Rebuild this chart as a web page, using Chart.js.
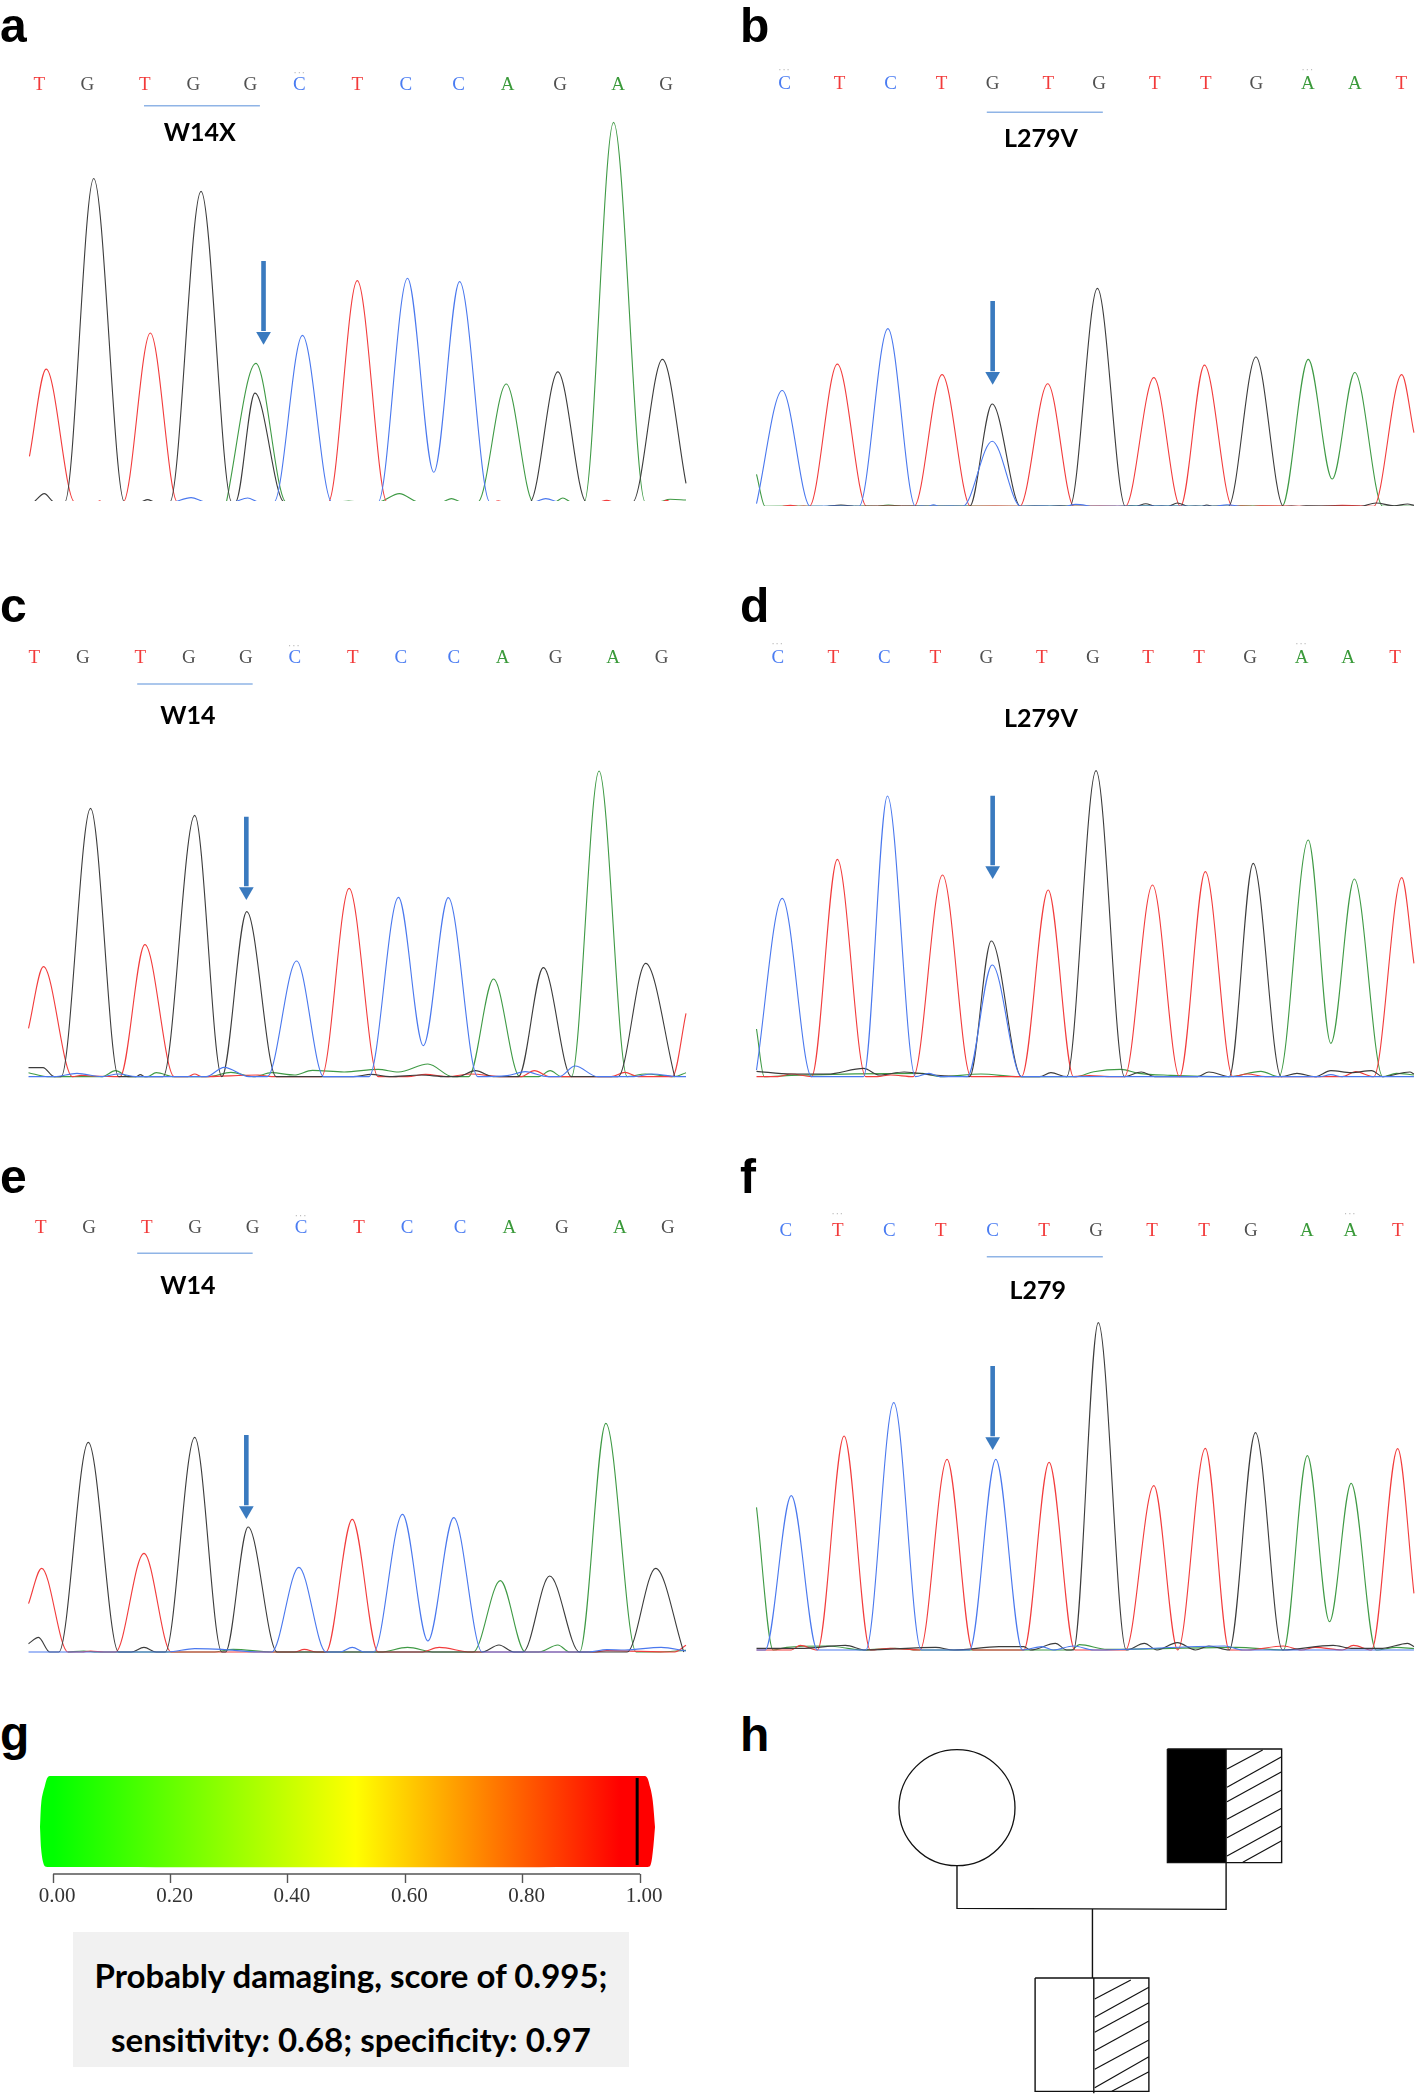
<!DOCTYPE html>
<html><head><meta charset="utf-8">
<script src="https://cdn.jsdelivr.net/npm/chart.js@4/dist/chart.umd.min.js"></script>
<style>
html,body{margin:0;padding:0;background:#fff}
#page{position:relative;width:1418px;height:2096px;overflow:hidden;background:#fff}
canvas{position:absolute;display:block}
.t{position:absolute;white-space:nowrap;color:#000}
.p{font:bold 48px "Liberation Sans",sans-serif;line-height:48px}
.v{font:bold 25px Lato,sans-serif;transform:translate(-50%,-50%);line-height:1}
.d{font:10px "DejaVu Sans",sans-serif;color:#bbb;transform:translate(-50%,-50%);letter-spacing:1px;line-height:1}
#box{position:absolute;left:73px;top:1932px;width:556px;height:135px;background:#f1f1f1}
.s{font:bold 33px Lato,sans-serif;transform:translate(-50%,-50%);line-height:1;left:351px}
</style></head><body><div id="page"><div id="box"></div></div>
<script>
// ---------- sequencing traces: [scan position, signal height] ----------
const aBases=['T','G','T','G','G','C','T','C','C','A','G','A','G'];
const aBaseX=[87,193,320,427,553,661,789,896,1013,1121,1237,1365,1471];
const aRed=[[65,135],[102,393],[165,0],[215,0],[220,4],[226,0],[272,0],[332,500],[392,0],[725,0],[789,655],[855,0],[1092,0],[1100,4],[1110,0],[1320,0],[1340,5],[1358,0],[1462,0],[1472,5],[1482,0],[1515,0]];
const aBlack=[[75,0],[98,25],[120,0],[143,0],[207,957],[275,0],[310,0],[326,7],[342,0],[375,0],[444,919],[512,0],[520,0],[563,322],[628,0],[1170,0],[1232,385],[1295,0],[1397,0],[1463,422],[1515,55]];
const aGreen=[[500,0],[565,410],[632,0],[745,0],[770,3],[795,0],[835,0],[882,25],[925,0],[975,0],[997,10],[1020,0],[1055,0],[1118,349],[1178,0],[1225,0],[1243,12],[1262,0],[1290,0],[1355,1123],[1425,0],[1452,0],[1480,8],[1515,6]];
const aBlue=[[385,0],[422,13],[455,0],[513,0],[547,12],[572,0],[605,0],[668,493],[733,0],[835,0],[900,662],[958,88],[1015,652],[1082,0],[1178,0],[1205,10],[1232,0]];

const bBases=['C','T','C','T','G','T','G','T','T','G','A','A','T'];
const bBaseX=[165,287,400,513,626,749,862,985,1098,1210,1324,1428,1531];
const bRed=[[160,0],[178,3],[195,0],[220,0],[282,421],[347,0],[452,0],[514,390],[577,0],[686,0],[748,363],[806,0],[920,0],[983,381],[1042,0],[1095,418],[1157,0],[1200,0],[1220,2],[1350,0],[1400,3],[1470,0],[1532,390],[1559,218]];
const bBlack=[[260,0],[290,4],[320,0],[575,0],[625,303],[688,0],[750,0],[775,2],[797,0],[858,645],[920,0],[945,0],[965,8],[985,0],[1015,0],[1035,10],[1060,0],[1090,0],[1100,4],[1112,0],[1148,0],[1209,442],[1270,0],[1305,0],[1320,2],[1440,0],[1475,10],[1515,2],[1545,7],[1559,3]];
const bGreen=[[103,95],[122,0],[250,0],[280,2],[330,0],[370,0],[395,4],[425,0],[690,0],[730,1],[900,0],[930,2],[1160,0],[1175,2],[1267,0],[1325,435],[1378,81],[1428,396],[1490,0],[1559,0]];
const bBlue=[[103,8],[160,343],[222,0],[330,0],[394,526],[455,0],[483,0],[495,5],[507,0],[560,0],[625,193],[688,0],[785,0],[810,6],[850,0],[1120,0],[1145,5],[1175,0]];

const cBases=['T','G','T','G','G','C','T','C','C','A','G','A','G'];
const cBaseX=[76,183,310,417,543,651,779,885,1002,1110,1227,1354,1461];
const cRed=[[63,145],[96,330],[160,0],[180,4],[205,2],[265,0],[320,396],[385,0],[415,0],[430,8],[445,0],[570,5],[600,0],[710,0],[771,565],[835,0],[900,0],[940,7],[990,0],[1040,8],[1110,0],[1150,0],[1180,18],[1215,0],[1350,0],[1380,13],[1410,0],[1485,0],[1515,190]];
const cBlack=[[63,27],[95,27],[120,0],[135,0],[200,805],[262,0],[300,0],[310,6],[320,0],[360,0],[430,784],[490,0],[545,495],[610,0],[780,0],[820,7],[860,0],[930,5],[985,0],[1010,0],[1050,18],[1090,0],[1145,0],[1200,327],[1262,0],[1365,0],[1426,340],[1490,0]];
const cGreen=[[63,12],[105,0],[225,0],[255,18],[285,0],[325,0],[345,12],[385,0],[460,0],[510,13],[560,0],[600,12],[650,5],[690,19],[760,14],[835,22],[880,14],[945,38],[1000,0],[1035,0],[1090,293],[1148,0],[1190,0],[1215,18],[1240,0],[1262,0],[1323,917],[1385,0],[1425,8],[1490,0],[1515,12]];
const cBlue=[[63,0],[120,0],[170,10],[225,0],[262,8],[300,0],[455,0],[495,28],[550,0],[590,0],[655,347],[715,0],[815,0],[880,538],[935,93],[990,537],[1055,0],[1120,3],[1160,15],[1210,0],[1235,0],[1270,32],[1320,0],[1400,0],[1440,8],[1500,0],[1515,0]];

const dBases=['C','T','C','T','G','T','G','T','T','G','A','A','T'];
const dBaseX=[150,273,386,499,612,735,848,970,1083,1196,1310,1413,1517];
const dRed=[[103,0],[150,0],[180,8],[225,0],[282,652],[345,0],[370,0],[400,5],[450,0],[515,605],[578,0],[690,0],[749,560],[805,0],[840,3],[890,0],[918,0],[980,575],[1040,0],[1097,615],[1158,0],[1190,8],[1230,0],[1400,0],[1430,15],[1470,0],[1532,597],[1559,340]];
const dBlack=[[103,16],[180,8],[260,8],[340,25],[375,5],[430,14],[495,5],[575,0],[623,407],[690,0],[730,0],[755,12],[790,0],[855,918],[918,0],[955,14],[985,0],[1080,0],[1105,14],[1150,0],[1203,640],[1265,0],[1300,10],[1340,0],[1375,18],[1420,12],[1465,18],[1490,0],[1550,14],[1559,8]];
const dGreen=[[103,143],[120,0],[180,4],[470,10],[510,0],[600,8],[685,0],[810,0],[850,15],[910,22],[950,10],[1020,4],[1150,0],[1220,16],[1260,0],[1325,710],[1375,100],[1427,593],[1490,0],[1520,10],[1559,5]];
const dBlue=[[103,20],[160,535],[225,0],[340,0],[393,842],[455,0],[485,10],[510,0],[570,0],[625,335],[690,0],[1350,0],[1375,6],[1400,0],[1559,0]];

const eBases=['T','G','T','G','G','C','T','C','C','A','G','A','G'];
const eBaseX=[90,197,324,431,558,665,793,899,1016,1125,1241,1369,1475];
const eRed=[[63,145],[92,251],[150,0],[180,0],[200,3],[230,0],[255,0],[318,296],[378,0],[650,0],[672,8],[700,0],[720,0],[778,398],[835,0],[930,0],[970,14],[1040,0],[1310,0],[1340,4],[1490,0],[1515,20]];
const eBlack=[[63,25],[85,44],[110,0],[130,0],[195,629],[262,0],[290,0],[318,14],[345,0],[365,0],[430,644],[490,0],[498,0],[548,375],[612,0],[1065,0],[1102,21],[1135,0],[1155,0],[1214,228],[1280,0],[1385,0],[1448,251],[1510,0]];
const eGreen=[[150,0],[185,3],[215,0],[470,0],[515,8],[600,0],[840,0],[900,14],[960,0],[1045,0],[1105,214],[1160,0],[1190,0],[1232,21],[1258,0],[1280,0],[1338,686],[1405,0],[1450,0],[1515,5]];
const eBlue=[[63,0],[370,0],[430,10],[490,8],[570,0],[600,0],[660,254],[720,0],[750,0],[778,14],[805,0],[825,0],[889,413],[945,33],[1002,403],[1065,0],[1300,0],[1340,7],[1380,6],[1460,14],[1515,3]];

const fBases=['C','T','C','T','C','T','G','T','T','G','A','A','T'];
const fBaseX=[168,283,397,511,626,740,855,979,1094,1198,1322,1418,1523];
const fRed=[[103,0],[180,0],[200,14],[238,0],[297,642],[355,0],[400,5],[465,0],[525,572],[582,0],[695,0],[751,563],[808,0],[920,0],[983,493],[1036,0],[1097,605],[1150,0],[1190,0],[1270,12],[1310,0],[1340,8],[1400,0],[1425,14],[1465,0],[1523,604],[1559,170]];
const fBlack=[[103,5],[200,5],[300,14],[345,0],[500,8],[540,0],[640,10],[695,10],[710,0],[765,20],[790,0],[805,0],[860,982],[922,0],[962,20],[990,0],[1035,22],[1075,0],[1105,12],[1150,0],[1208,652],[1268,0],[1380,14],[1420,5],[1490,5],[1545,20],[1559,10]];
const fGreen=[[103,428],[140,0],[170,8],[260,12],[340,0],[410,5],[460,0],[800,0],[818,16],[880,2],[1165,8],[1270,0],[1323,583],[1372,85],[1420,500],[1475,0],[1520,8],[1559,4]];
const fBlue=[[103,0],[122,0],[180,463],[238,0],[345,0],[407,742],[468,0],[575,0],[633,572],[692,0],[735,10],[760,0],[805,12],[850,0],[1140,12],[1180,0],[1559,0]];

// ---------- polyphen score bar ----------
const scoreTicks=[0,0.2,0.4,0.6,0.8,1];
const score=0.995;
const barX=[-0.0224,-0.020,-0.0146,-0.0054,1.0077,1.017,1.0216,1.0254];
const barTop=[47,73,87,98,98,87,73,47];
const barBottom=[47,22,8,7,7,8,22,47];
const colourStops=[[0,'#00ff00'],[0.515,'#ffff00'],[0.966,'#ff0000'],[1,'#ff0000']];

// ---------- pedigree outline segments ----------
const pedMother=[[547,323]];
const pedFatherBlack=[[1013,147],[1143,147]];
const pedFrames=[[[1013,147],[1266,147],[1266,488],[1013,488],[1013,147]],[[1143,147],[1143,488]],[[720,834],[972,834],[972,1174],[720,1174],[720,834]],[[850,834],[850,1180]],[[547,498],[547,625],[1143,628],[1143,488]],[[847,627],[847,834]]];
const pedHatch=[[[1145,207],[1224,150]],[[1145,262],[1266,170]],[[1145,305],[1266,215]],[[1145,358],[1266,270]],[[1145,413],[1266,325]],[[1145,468],[1266,378]],[[1180,487],[1266,422]],[[852,897],[932,840]],[[852,952],[972,862]],[[852,997],[972,908]],[[852,1052],[972,963]],[[852,1108],[972,1020]],[[852,1163],[972,1070]],[[890,1174],[972,1115]]];

Chart.defaults.animation=false;
const page=document.getElementById('page');
const baseColour={T:'#f23a3a',G:'#505050',C:'#4a7cf2',A:'#3a9a3a'};
const pts=a=>a.map(p=>({x:p[0],y:p[1]}));

function addCanvas(l,t,w,h){
  const c=document.createElement('canvas');c.width=w;c.height=h;
  c.style.left=l+'px';c.style.top=t+'px';c.style.width=w+'px';c.style.height=h+'px';
  page.appendChild(c);return c;
}
function addText(cls,txt,l,t){
  const d=document.createElement('div');d.className='t '+cls;d.textContent=txt;
  if(l!==null)d.style.left=l+'px';d.style.top=t+'px';page.appendChild(d);return d;
}
function trace(a,col){return {data:pts(a),borderColor:col,borderWidth:1.1,showLine:true,pointRadius:0,cubicInterpolationMode:'monotone',clip:0};}

function seqPanel(o){
  const kx=1568/o.cw, H=Math.round((o.base+o.pad)/o.ky), axisH=Math.round(o.letterY/o.ky)+12;
  const yMin=o.base-H*o.ky, yMax=o.base-axisH*o.ky;
  const c=addCanvas(o.cx,o.cy,o.cw,H);
  const ds=[];
  const h=zy=>o.base-zy;
  ds.push({data:[{x:o.arrow[0],y:h(o.arrow[1])},{x:o.arrow[0],y:h(o.arrow[2]+6)}],borderColor:'#3a7abf',borderWidth:4.6,showLine:true,pointRadius:0,clip:0});
  ds.push({data:[{x:o.arrow[0],y:h((o.arrow[2]+o.arrow[3])/2+3)}],pointStyle:'triangle',rotation:180,pointRadius:8.5,backgroundColor:'#3a7abf',borderWidth:0,showLine:false});
  if(o.rule)ds.push({data:[{x:o.rule[0],y:h(o.rule[2])},{x:o.rule[1],y:h(o.rule[2])}],borderColor:o.ruleCol||'#8fb4e6',borderWidth:1.5,showLine:true,pointRadius:0,clip:0});
  ds.push(trace(o.blue,'#4a78ee'),trace(o.black,'#3c3c3c'),trace(o.red,'#f23c3c'),trace(o.green,'#3f9a45'));
  new Chart(c,{type:'scatter',data:{datasets:ds},options:{responsive:false,events:[],layout:{padding:0,autoPadding:false},
    plugins:{legend:{display:false},tooltip:{enabled:false},title:{display:false}},
    scales:{
      x:{type:'linear',position:'top',min:0,max:1568,grid:{display:false,drawTicks:false},border:{display:false},
        afterBuildTicks:s=>{s.ticks=o.baseX.map(v=>({value:v}));},
        afterFit:s=>{s.height=axisH;},
        ticks:{autoSkip:false,maxRotation:0,padding:1,font:{family:'"Liberation Serif"',size:19},
          callback:(v,i)=>o.bases[i],color:ctx=>baseColour[o.bases[ctx.index]]}},
      y:{type:'linear',display:false,min:yMin,max:yMax}
    }}});
  addText('p',o.letter,o.letterX,o.cy+o.letterBase-40);
  addText('v',o.label,o.cx+o.labelX/kx,o.cy+o.labelY/o.ky);
  o.dots.forEach(d=>addText('d','···',o.cx+d/kx,o.cy+o.dotY/o.ky));
}

seqPanel({cx:0,cy:0,cw:710,ky:2.958,base:1485,pad:-3,letterY:252,bases:aBases,baseX:aBaseX,red:aRed,black:aBlack,green:aGreen,blue:aBlue,arrow:[582,772,973,1010],rule:[318,574,313],letter:'a',letterX:0,letterBase:42,label:'W14X',labelX:441,labelY:388,dots:[662],dotY:215});
seqPanel({cx:710,cy:0,cw:708,ky:2.958,base:1498,pad:0,letterY:248,bases:bBases,baseX:bBaseX,red:bRed,black:bBlack,green:bGreen,blue:bBlue,arrow:[626,890,1092,1128],rule:[613,870,332],letter:'b',letterX:740,letterBase:42,label:'L279V',labelX:733,labelY:405,dots:[165,1324],dotY:208});
seqPanel({cx:0,cy:580,cw:710,ky:3,base:1490,pad:4,letterY:235,bases:cBases,baseX:cBaseX,red:cRed,black:cBlack,green:cGreen,blue:cBlue,arrow:[544,710,913,950],rule:[303,558,312],letter:'c',letterX:0,letterBase:42,label:'W14',labelX:415,labelY:403,dots:[650],dotY:197});
seqPanel({cx:710,cy:580,cw:708,ky:3,base:1490,pad:4,letterY:235,bases:dBases,baseX:dBaseX,red:dRed,black:dBlack,green:dGreen,blue:dBlue,arrow:[626,647,850,887],rule:null,letter:'d',letterX:740,letterBase:42,label:'L279V',labelX:733,labelY:410,dots:[150,1310],dotY:193});
seqPanel({cx:0,cy:1160,cw:710,ky:3,base:1476,pad:4,letterY:205,bases:eBases,baseX:eBaseX,red:eRed,black:eBlack,green:eGreen,blue:eBlue,arrow:[544,825,1030,1067],rule:[303,558,280],letter:'e',letterX:0,letterBase:33,label:'W14',labelX:415,labelY:371,dots:[665],dotY:167});
seqPanel({cx:710,cy:1160,cw:708,ky:3,base:1470,pad:4,letterY:212,bases:fBases,baseX:fBaseX,red:fRed,black:fBlack,green:fGreen,blue:fBlue,arrow:[626,618,823,860],rule:[613,870,290],letter:'f',letterX:740,letterBase:33,label:'L279',labelX:726,labelY:388,dots:[283,1418],dotY:163});

// panel g
addText('p','g',0,1710);
(function(){
  const c=addCanvas(0,1760,710,150);
  const fillFn=ctx=>{
    const ch=ctx.chart; if(!ch.chartArea)return 'transparent';
    const s=ch.scales.x, g=ch.ctx.createLinearGradient(s.getPixelForValue(0),0,s.getPixelForValue(1),0);
    colourStops.forEach(p=>g.addColorStop(p[0],p[1])); return g;
  };
  const edge=(ys,fill)=>({data:barX.map((x,i)=>({x,y:ys[i]})),showLine:true,pointRadius:0,borderWidth:0,tension:0.3,fill,backgroundColor:fillFn});
  new Chart(c,{type:'scatter',data:{datasets:[
    {data:[{x:score,y:9},{x:score,y:96}],showLine:true,pointRadius:0,borderColor:'#000',borderWidth:3},
    {data:[{x:0,y:0},{x:1,y:0}],showLine:true,pointRadius:0,borderColor:'#555',borderWidth:1.6,clip:false},
    edge(barTop,'+1'),edge(barBottom,false)
  ]},options:{responsive:false,events:[],layout:{padding:{left:40,right:55,top:16,bottom:0},autoPadding:false},
    plugins:{legend:{display:false},tooltip:{enabled:false}},
    scales:{
      x:{type:'linear',min:barX[0],max:barX[barX.length-1],border:{display:false},
        grid:{drawOnChartArea:false,drawTicks:true,tickLength:9,tickColor:'#555',tickWidth:1.4},
        afterBuildTicks:s=>{s.ticks=scoreTicks.map(v=>({value:v}));},
        afterFit:s=>{s.height=36;},
        ticks:{autoSkip:false,maxRotation:0,padding:1,labelOffset:4,color:'#333',font:{family:'"Liberation Serif"',size:21},callback:v=>Number(v).toFixed(2)}},
      y:{type:'linear',display:false,min:0,max:98}
    }}});
})();
addText('s','Probably damaging, score of 0.995;',null,1975);
addText('s','sensitivity: 0.68; specificity: 0.97',null,2039);

// panel h
addText('p','h',740,1711);
(function(){
  const c=addCanvas(710,1700,708,396);
  const line=(a,w)=>({data:pts(a),showLine:true,pointRadius:0,borderColor:'#111',borderWidth:w,clip:false});
  const ds=[{data:pts(pedMother),pointStyle:'circle',pointRadius:58,borderColor:'#111',borderWidth:1.3,backgroundColor:'rgba(0,0,0,0)',showLine:false}];
  pedFrames.forEach(a=>ds.push(line(a,1.4)));
  pedHatch.forEach(a=>ds.push(line(a,1.2)));
  ds.push({data:pts(pedFatherBlack),showLine:true,pointRadius:0,borderWidth:0,backgroundColor:'#000',fill:{value:488}});
  new Chart(c,{type:'scatter',data:{datasets:ds},options:{responsive:false,events:[],layout:{padding:0,autoPadding:false},
    plugins:{legend:{display:false},tooltip:{enabled:false}},
    scales:{x:{type:'linear',display:false,min:0,max:1568},y:{type:'linear',display:false,min:0,max:1188,reverse:true}}}});
})();
</script></body></html>
